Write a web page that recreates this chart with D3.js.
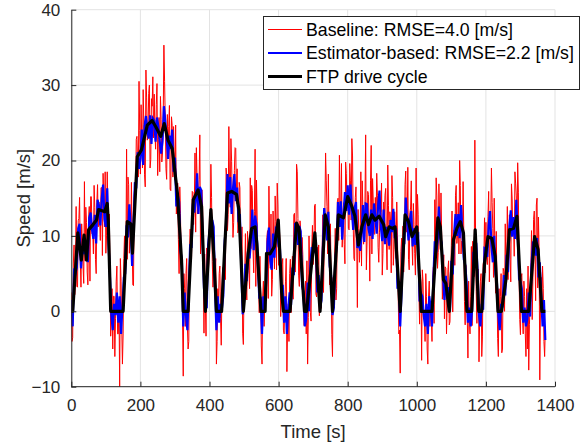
<!DOCTYPE html>
<html>
<head>
<meta charset="utf-8">
<script src="https://cdn.jsdelivr.net/npm/d3@7"></script>
<style>
  html, body { margin: 0; padding: 0; background: #fff; }
  svg { display: block; font-family: "Liberation Sans", Arial, Helvetica, sans-serif; }
</style>
</head>
<body>
<svg id="chart" width="587" height="447"></svg>
<script>
// ---------- data ----------
const xTicks = [0, 200, 400, 600, 800, 1000, 1200, 1400];
const yTicks = [-10, 0, 10, 20, 30, 40];
const seriesNames = ["Baseline: RMSE=4.0 [m/s]", "Estimator-based: RMSE=2.2 [m/s]", "FTP drive cycle"];
const xLabel = "Time [s]";
const yLabel = "Speed [m/s]";

// FTP drive cycle (time [s], speed [m/s])
const ftpTime = [0,4,19,29,37,44,50,63,73,79,97,104,107,114,150,162,172,177,191,203,220,234,244,259,269,280,292,307,319,324,338,353,367,377,388,404,413,420,435,452,464,478,485,498,512,522,532,537,549,561,565,575,588,599,609,614,633,652,659,675,681,705,720,735,744,756,773,788,800,812,821,831,841,852,860,870,879,891,904,910,920,930,937,952,966,976,986,1000,1013,1044,1061,1068,1077,1084,1094,1106,1116,1126,1135,1145,1159,1169,1179,1188,1196,1206,1217,1227,1235,1245,1258,1268,1280,1290,1303,1324,1341,1351,1362,1372];
const ftpSpeed = [0,0,10.4,6.8,10.1,6.8,10.8,11.5,12.1,13.5,13.2,14.3,12,0,0,11.9,11.6,7.7,20.5,21.4,24.7,25.3,24.5,23.2,24.9,22.7,21.6,15.7,6.8,0,0,14.8,16.1,13.9,0,13.5,7,0,0,15.7,15.9,15.5,13.5,0,7.7,11.0,11.2,9,0,0,7.7,7.6,8.6,12.1,2.4,0,0,11.7,11,0,0,10.4,0,12.8,11.2,0,12.8,12.4,15.2,13.9,12.6,8.8,11.2,12.8,11.5,12.8,12.1,12.6,11.5,9.9,11.2,11.0,11.2,0,12.8,11.9,9.9,11.2,0,0,12.4,11.2,4.2,3.7,0,9.5,11.0,11.9,10.4,0,0,10.8,0,0,6.4,9.9,9.7,7.3,0,0,4.2,10.8,11.0,12.6,0,0,9.9,8.2,0,0];

// Baseline estimate, sampled every 2 s from t = 0
const baselineStep = 2;
const baselineSpeed = [
  2.5,-4.0,-3.5,6.4,8.8,2.2,4.5,13.9,3.3,3.2,12.0,12.3,15.1,6.9,3.2,11.6,9.0,5.9,3.7,17.2,
  6.7,13.8,11.8,5.2,3.5,12.2,13.9,4.0,15.2,15.2,10.3,10.5,7.6,16.7,13.8,6.9,5.0,14.4,16.8,11.2,
  14.5,12.5,9.4,16.4,16.4,7.4,18.3,15.3,11.2,18.5,7.7,10.0,18.5,13.3,7.3,12.9,5.4,-3.3,-1.0,3.0,
  -5.0,2.0,2.0,-6.0,-1.0,4.0,6.0,-3.0,-3.0,1.0,-10.0,7.0,4.0,-2.0,-7.0,-3.0,7.0,10.0,4.0,7.0,
  21.5,6.9,17.8,16.8,7.7,9.7,9.6,17.1,9.5,3.5,3.4,15.3,17.1,15.0,22.8,23.2,19.6,17.8,30.5,24.0,
  18.2,27.4,22.6,19.0,29.4,24.8,18.1,16.5,32.0,28.3,22.7,23.8,28.9,30.0,19.0,20.1,28.2,27.2,31.1,23.0,
  28.8,23.7,21.5,27.4,30.2,18.0,22.8,25.7,18.5,28.5,25.4,19.8,21.0,25.4,35.3,30.5,25.3,18.9,17.5,26.1,
  20.7,24.5,27.3,16.2,16.0,25.8,24.6,17.8,24.5,20.2,17.4,24.7,12.9,14.0,17.0,9.5,5.0,16.5,13.0,6.2,
  6.4,-1.3,-8.6,5.0,3.0,-2.0,5.0,7.0,-2.0,-5.0,-4.0,7.0,10.9,6.9,6.9,15.9,15.8,11.5,14.1,21.0,
  10.5,21.7,17.8,12.9,14.9,17.5,23.4,7.6,11.1,16.1,14.1,6.6,-2.9,7.6,1.0,-3.3,8.4,7.1,4.8,6.5,
  13.1,10.8,19.5,15.1,6.6,3.2,5.7,7.9,5.0,7.0,-7.0,-4.0,3.0,1.0,5.0,6.0,-1.0,-4.5,2.9,5.8,
  1.6,8.5,9.3,4.2,19.0,17.9,10.7,12.8,24.5,16.8,13.8,22.9,19.9,13.9,9.8,11.8,18.7,21.7,21.6,14.3,
  18.9,10.4,10.8,17.1,16.4,6.3,5.2,11.2,-2.9,-4.4,3.1,5.2,10.3,3.4,1.5,10.6,8.7,5.4,3.0,17.7,
  8.3,16.7,16.0,8.1,5.1,13.2,21.5,3.3,17.4,12.1,5.8,4.3,-0.2,7.3,2.8,-4.6,-7.0,2.0,4.0,-2.0,
  1.0,1.9,1.8,9.8,10.7,1.7,16.6,9.7,5.7,12.9,2.0,4.2,13.3,9.5,5.6,15.3,11.9,5.5,17.0,14.1,
  6.1,11.2,9.2,-0.7,2.4,6.2,7.0,-2.5,-3.0,1.0,4.0,7.0,-8.0,-2.0,1.0,-4.0,5.0,6.9,-0.2,2.1,
  7.3,1.6,12.8,13.0,5.2,8.5,19.5,18.5,12.3,4.8,3.3,12.0,10.6,5.2,9.8,7.5,1.1,-1.9,2.0,4.0,
  -3.0,6.7,-7.0,-0.8,10.0,5.9,-0.2,-1.3,8.5,11.4,6.2,8.1,14.0,14.2,2.3,1.9,8.5,6.2,8.8,-0.6,
  4.0,0.7,0.4,8.1,12.8,2.5,9.2,13.4,21.0,17.3,13.9,7.6,18.2,10.4,3.5,11.6,4.7,-3.1,-6.0,4.5,
  1.0,6.5,11.0,1.5,3.0,14.5,15.0,9.4,20.7,13.7,11.6,19.6,8.5,10.5,14.4,8.9,6.3,19.8,18.3,13.8,
  16.2,11.0,10.8,19.6,17.3,12.1,22.9,20.6,11.3,7.0,6.7,15.1,16.5,9.7,0.5,13.5,11.0,6.5,9.0,18.5,
  6.0,17.3,13.6,8.9,11.2,14.5,23.4,5.5,9.2,15.9,15.5,10.8,4.0,17.3,22.0,7.6,17.6,14.5,10.3,10.2,
  15.1,11.2,18.3,15.4,8.5,6.5,10.5,14.4,13.2,17.0,4.8,7.7,14.5,12.0,15.4,16.3,9.2,5.5,19.4,14.0,
  8.2,13.2,12.1,5.1,18.0,15.1,6.1,8.2,13.2,11.1,7.0,14.5,10.0,2.5,-3.0,-2.5,-8.2,7.9,9.7,4.5,
  11.3,5.2,8.0,16.8,18.6,10.5,11.3,19.1,6.9,5.5,13.1,13.7,17.3,9.2,6.1,14.3,11.5,7.7,4.8,19.0,
  9.2,15.5,12.8,3.1,-1.7,4.6,3.9,-6.5,5.5,4.0,-1.0,-1.0,-4.0,5.0,2.0,-5.0,-7.0,2.0,4.0,-2.0,
  1.0,-1.0,-4.0,4.5,5.9,-1.6,14.8,9.3,17.7,15.3,5.7,7.8,16.9,12.6,8.2,15.7,10.1,1.6,4.0,7.5,
  -1.0,5.9,5.7,-3.0,1.2,5.5,6.7,-1.8,-1.4,4.2,8.7,13.3,-0.1,6.9,10.8,6.1,15.4,16.7,9.0,10.2,
  14.4,7.6,20.0,16.7,7.6,9.3,8.9,17.2,10.4,1.3,-1.8,6.1,4.0,-0.5,-6.2,4.0,-1.0,-3.0,2.0,8.6,
  -1.9,9.3,6.4,4.6,22.7,10.7,2.6,-1.6,5.2,5.6,-6.7,-1.0,4.0,5.0,-6.0,-3.4,6.2,6.8,12.4,5.1,
  11.8,7.5,6.2,12.6,15.9,3.9,8.8,11.8,19.0,14.4,11.0,4.5,15.0,8.2,2.4,10.6,3.7,-3.6,-6.0,3.0,
  -2.0,2.0,5.0,-5.5,-5.0,5.7,5.3,0.0,11.6,5.6,4.5,13.9,4.2,7.5,12.8,6.9,3.9,16.9,14.9,10.0,
  12.0,7.3,18.5,17.0,15.3,9.5,19.7,15.8,4.8,-1.1,-3.1,4.5,5.0,-1.0,-3.0,4.0,2.0,-3.0,-6.0,3.0,
  -5.0,6.0,-7.8,-1.8,1.3,5.5,10.7,-1.1,4.0,12.2,13.3,8.4,1.4,14.1,15.0,3.1,12.5,8.0,-9.1,1.0,
  4.5,-0.2,6.0,3.0,-4.0,-6.0,-2.0
];

// Estimator-based estimate, sampled every 4 s from t = 0
const estimatorStep = 4;
const estimatorSpeed = [
  1.5,-2.0,5.3,5.0,5.8,11.0,11.6,5.7,8.5,7.7,
  7.7,9.3,6.5,12.4,13.1,10.8,9.6,12.8,9.0,14.8,
  14.0,11.4,14.9,16.8,12.2,11.2,16.3,8.8,4.4,-0.5,
  -2.5,1.0,-0.5,2.5,-1.5,2.0,-3.0,0.5,4.5,5.0,
  11.4,9.8,14.2,11.1,6.0,11.4,17.1,16.3,21.1,18.9,
  20.2,24.1,19.4,24.6,25.9,24.2,22.9,26.0,22.2,25.6,
  25.3,22.5,25.7,24.5,22.5,20.9,22.6,27.2,25.3,23.0,
  20.2,23.3,21.5,24.1,18.5,20.4,13.9,15.5,14.5,8.0,
  6.9,-2.0,2.5,-0.5,-2.5,3.0,8.9,8.4,14.3,13.1,
  14.5,18.3,12.9,16.5,16.1,9.6,3.1,1.0,0.4,8.8,
  10.6,11.5,12.1,11.2,3.0,-2.5,2.0,-1.5,1.0,0.4,
  2.1,9.3,11.5,18.2,14.3,17.8,12.9,16.3,18.2,14.6,
  16.4,11.8,12.9,5.7,-0.4,2.1,6.3,4.0,8.2,7.0,
  9.3,13.5,8.1,12.7,11.4,6.3,1.8,1.8,-3.0,2.0,
  0.5,3.8,9.2,11.1,6.7,5.5,10.3,7.1,10.9,10.6,
  8.6,8.2,2.9,3.5,-1.5,2.0,-3.0,0.5,2.5,0.8,
  5.8,4.8,11.7,11.2,8.8,11.3,10.6,3.3,2.6,-2.0,
  -1.0,3.8,0.0,6.3,8.5,7.7,8.0,9.3,2.5,4.8,
  0.5,1.4,8.3,13.7,11.6,9.4,13.2,6.0,4.7,-0.5,
  0.5,7.0,8.5,14.5,11.2,14.6,9.5,12.9,15.8,13.3,
  16.7,12.8,16.8,13.4,10.8,13.7,14.5,8.4,9.5,8.0,
  10.0,14.1,9.2,14.3,14.2,11.0,10.0,13.5,9.6,14.3,
  12.6,10.3,14.0,16.0,11.2,9.3,13.5,8.9,11.2,10.2,
  8.7,12.1,10.5,13.6,9.7,11.0,3.0,3.5,-2.0,2.7,
  8.8,9.0,15.1,11.8,9.4,12.1,13.3,8.6,11.0,8.8,
  10.2,10.3,1.3,2.4,2.0,-0.5,-2.0,1.0,-3.0,2.0,
  0.5,-2.0,4.4,9.3,7.8,9.2,13.9,9.7,9.1,4.5,
  1.5,4.7,1.7,3.2,0.1,6.7,4.9,10.3,12.9,10.0,
  12.9,9.7,14.1,10.4,6.9,6.2,4.0,-1.5,0.5,-2.0,
  0.1,7.9,6.7,9.1,5.2,-0.5,-2.0,1.0,0.2,8.4,
  8.3,7.2,11.4,13.3,8.7,6.5,10.0,4.9,3.7,-0.5,
  -2.5,1.0,0.5,4.8,2.1,7.5,5.2,11.3,13.4,9.9,
  12.5,9.6,14.8,10.2,4.3,3.9,3.0,-1.5,0.5,-2.0,
  -1.0,2.5,-0.7,6.2,9.0,8.8,7.4,9.7,4.5,6.5,
  2.0,-2.0,1.5,-3.8
];

// ---------- layout ----------
const svg = d3.select("#chart");
const L = 71.3, R = 555, T = 9.7, B = 386.7;
const x = d3.scaleLinear().domain([0, 1400]).range([L, R]);
const y = d3.scaleLinear().domain([-10, 40]).range([B, T]);
const axisColor = "#262626";
const fontTick = "17px";

// grid
const grid = svg.append("g");
grid.selectAll("line.gx").data(xTicks).join("line")
  .attr("x1", d => x(d)).attr("x2", d => x(d)).attr("y1", T).attr("y2", B)
  .attr("stroke", "#e3e3e3").attr("stroke-width", 1);
grid.selectAll("line.gy").data(yTicks).join("line")
  .attr("x1", L).attr("x2", R).attr("y1", d => y(d)).attr("y2", d => y(d))
  .attr("stroke", "#e3e3e3").attr("stroke-width", 1);

// clip
svg.append("clipPath").attr("id", "clip").append("rect")
  .attr("x", L).attr("y", T - 2).attr("width", R - L).attr("height", B - T + 2);

const plot = svg.append("g").attr("clip-path", "url(#clip)");
const sampled = (arr, step) => arr.map((v, i) => [i * step, v]);
const line = d3.line().x(d => x(d[0])).y(d => y(d[1]));

plot.append("path").datum(sampled(baselineSpeed, baselineStep)).attr("d", line)
  .attr("fill", "none").attr("stroke", "#ff0000").attr("stroke-width", 1);
plot.append("path").datum(sampled(estimatorSpeed, estimatorStep)).attr("d", line)
  .attr("fill", "none").attr("stroke", "#0000ff").attr("stroke-width", 2.2);
plot.append("path").datum(d3.zip(ftpTime, ftpSpeed)).attr("d", line)
  .attr("fill", "none").attr("stroke", "#000").attr("stroke-width", 3.2)
  .attr("stroke-linejoin", "round");

// axes (MATLAB style: inward ticks, no box)
const xAxis = d3.axisBottom(x).tickValues(xTicks).tickSizeInner(-5).tickSizeOuter(0).tickPadding(12).tickFormat(d3.format("d"));
const yAxis = d3.axisLeft(y).tickValues(yTicks).tickSizeInner(-5).tickSizeOuter(0).tickPadding(11).tickFormat(d3.format("d"));

const gx = svg.append("g").attr("transform", `translate(0,${B})`).call(xAxis);
const gy = svg.append("g").attr("transform", `translate(${L},0)`).call(yAxis);
[gx, gy].forEach(g => {
  g.select(".domain").attr("stroke", axisColor).attr("stroke-width", 1);
  g.selectAll(".tick line").attr("stroke", axisColor);
  g.selectAll(".tick text").attr("fill", axisColor).style("font-size", fontTick)
    .style("font-family", '"Liberation Sans", Arial, sans-serif');
});
gx.select(".domain").attr("d", `M${L},0H${R}`);

// axis labels
svg.append("text").attr("x", (L + R) / 2).attr("y", 438)
  .attr("text-anchor", "middle").attr("fill", axisColor).style("font-size", "18.5px").text(xLabel);
svg.append("text").attr("transform", `translate(30,${(T + B) / 2}) rotate(-90)`)
  .attr("text-anchor", "middle").attr("fill", axisColor).style("font-size", "18.5px").text(yLabel);

// legend
const leg = svg.append("g");
leg.append("rect").attr("x", 263.5).attr("y", 16.5).attr("width", 316).attr("height", 73)
  .attr("fill", "#fff").attr("stroke", axisColor).attr("stroke-width", 1);
const legColors = ["#ff0000", "#0000ff", "#000"];
const legWidths = [1, 2, 3];
const legY = [29.5, 53, 76.5];
seriesNames.forEach((name, i) => {
  leg.append("line").attr("x1", 268).attr("x2", 302).attr("y1", legY[i]).attr("y2", legY[i])
    .attr("stroke", legColors[i]).attr("stroke-width", legWidths[i]);
  leg.append("text").attr("x", 306).attr("y", legY[i]).attr("dy", "0.35em")
    .attr("fill", "#000").style("font-size", "17.7px").text(name);
});
</script>
</body>
</html>
